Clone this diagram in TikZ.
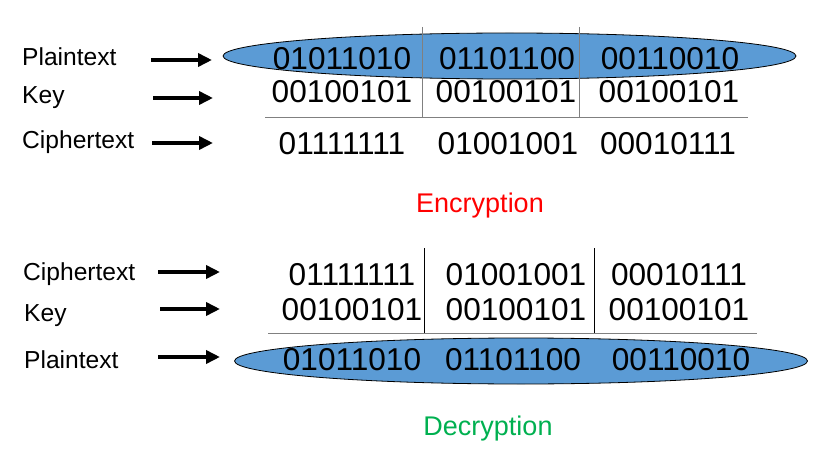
\documentclass[tikz,border=0pt]{standalone}
\usepackage{fontspec}
\setmainfont{Liberation Sans}
\usetikzlibrary{arrows.meta,shapes.geometric}
\definecolor{blobblue}{HTML}{5B9BD5}
\definecolor{encred}{HTML}{FF0000}
\definecolor{decgreen}{HTML}{00B050}
\definecolor{gridgray}{HTML}{808080}

\begin{document}
\begin{tikzpicture}[x=1pt,y=-1pt]
	\useasboundingbox (0,0) rectangle (824,449);

	% blue blobs behind the plaintext rows
	\begin{scope}[every node/.style={ellipse,draw=black,line width=0.8pt,fill=blobblue,
				inner sep=0pt,minimum width=573pt,minimum height=46pt}]
		\node (encblob) at (509.5,56) {};
		\node (decblob) at (521,361) {};
	\end{scope}

	% separators
	\begin{scope}[line width=0.9pt]
		\draw [gridgray] (422,27) -- (422,117);
		\draw [gridgray] (579,27) -- (579,117);
		\draw [gridgray] (265,117) -- (748,117);
		\draw [black] (424,248) -- (424,333);
		\draw [black] (594,248) -- (594,333);
		\draw [gridgray] (268,333) -- (757,333);
	\end{scope}

	% row labels
	\begin{scope}[every node/.style={anchor=base west,inner sep=0pt,font=\fontsize{24.6}{28}\selectfont}]
		\node (lep) at (22,66) {Plaintext};
		\node (lek) at (22,104) {Key};
		\node (lec) at (22,149) {Ciphertext};
		\node (ldc) at (23,280) {Ciphertext};
		\node (ldk) at (24,321) {Key};
		\node (ldp) at (24,368) {Plaintext};
	\end{scope}

	% bytes
	\begin{scope}[every node/.style={anchor=base,inner sep=0pt,font=\fontsize{31.6}{36}\selectfont}]
		\node (ep1) at (342,70) {01011010};
		\node (ep2) at (507,70) {01101100};
		\node (ep3) at (670,70) {00110010};
		\node (ek1) at (342,103) {00100101};
		\node (ek2) at (506,103) {00100101};
		\node (ek3) at (669,103) {00100101};
		\node (ec1) at (342,155) {01111111};
		\node (ec2) at (508,155) {01001001};
		\node (ec3) at (668,155) {00010111};

		\node (dc1) at (352,285) {01111111};
		\node (dc2) at (516,285) {01001001};
		\node (dc3) at (679,285) {00010111};
		\node (dk1) at (352,320) {00100101};
		\node (dk2) at (516,320) {00100101};
		\node (dk3) at (679,320) {00100101};
		\node (dp1) at (352,370) {01011010};
		\node (dp2) at (513,370) {01101100};
		\node (dp3) at (681,370) {00110010};
	\end{scope}

	% titles
	\begin{scope}[every node/.style={anchor=base,inner sep=0pt,font=\fontsize{27}{32}\selectfont}]
		\node [text=encred] (enctitle) at (480,212) {Encryption};
		\node [text=decgreen] (dectitle) at (488,435) {Decryption};
	\end{scope}

	% pointers
	\coordinate (aeps) at (151,60);  \coordinate (aepe) at (212,60);
	\coordinate (aeks) at (153,98);  \coordinate (aeke) at (213,98);
	\coordinate (aecs) at (152,143); \coordinate (aece) at (213,143);
	\coordinate (adcs) at (158,272); \coordinate (adce) at (220,272);
	\coordinate (adks) at (160,309); \coordinate (adke) at (220,309);
	\coordinate (adps) at (158,357); \coordinate (adpe) at (220,357);

	\begin{scope}[>={Triangle[length=14pt,width=13pt]},
				every edge/.style={draw=black,line width=4pt}]
		\path [->] (aeps) edge (aepe);
		\path [->] (aeks) edge (aeke);
		\path [->] (aecs) edge (aece);
		\path [->] (adcs) edge (adce);
		\path [->] (adks) edge (adke);
		\path [->] (adps) edge (adpe);
	\end{scope}
\end{tikzpicture}
\end{document}
